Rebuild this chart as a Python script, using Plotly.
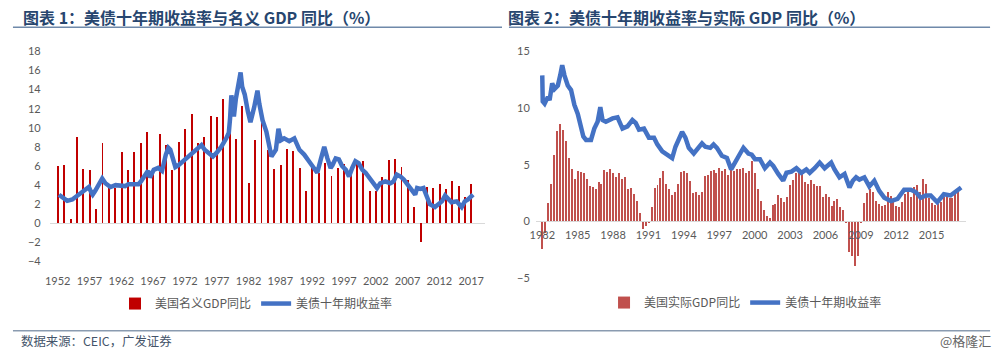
import plotly.graph_objects as go

W, H = 1000, 352


def fx(x):
    return x / W


def fy(y):
    return 1 - y / H


# ---------------- Chart 1: nominal GDP (annual) & 10Y yield ----------------
gdp_years = list(range(1952, 2018))
nominal_gdp = [
    6.0, 6.1, 0.4, 9.0, 5.6, 5.5, 1.4, 8.4, 4.0, 3.7,
    7.4, 5.5, 7.4, 8.4, 9.5, 5.7, 9.3, 8.2, 5.5, 8.5,
    9.8, 11.4, 8.4, 9.0, 11.2, 11.1, 13.0, 11.7, 8.8, 12.2,
    4.2, 8.7, 11.1, 7.6, 5.6, 6.1, 7.7, 7.5, 5.7, 3.3,
    5.9, 5.2, 6.3, 4.9, 5.7, 6.2, 5.7, 6.3, 6.5, 3.3,
    3.3, 4.8, 6.6, 6.7, 5.9, 4.5, 1.7, -2.0, 3.8, 3.7,
    4.1, 3.5, 4.4, 3.9, 2.7, 4.1,
]

left_yield_dates = [
    1952.2, 1952.7, 1953.5, 1954.3, 1955.1, 1956.1, 1956.9, 1957.3, 1957.5, 1957.9,
    1959.0, 1959.5, 1960.3, 1961.1, 1961.8, 1962.6, 1963.1, 1964.7, 1965.1, 1965.75,
    1966.2, 1966.5, 1967.1, 1967.8, 1968.4, 1969.0, 1969.4, 1969.7, 1970.2, 1970.5,
    1971.0, 1971.7, 1972.5, 1973.0, 1973.8, 1974.6, 1975.1, 1975.9, 1976.4, 1977.0,
    1977.7, 1978.5, 1978.9, 1979.1, 1979.3, 1979.5, 1979.7, 1980.0, 1980.35, 1980.75,
    1981.0, 1981.4, 1981.9, 1982.3, 1982.9, 1983.4, 1983.7, 1984.2, 1984.8, 1985.3,
    1985.6, 1986.3, 1986.7, 1987.1, 1987.6, 1988.4, 1989.2, 1990.0, 1990.75, 1991.5,
    1992.3, 1992.8, 1993.4, 1993.9, 1994.4, 1994.9, 1995.2, 1995.7, 1996.2, 1996.7,
    1997.3, 1997.8, 1998.3, 1998.8, 1999.3, 1999.9, 2000.4, 2000.9, 2001.7, 2002.2,
    2002.7, 2003.5, 2004.3, 2004.8, 2005.3, 2005.9, 2006.4, 2006.9, 2007.4, 2008.2,
    2008.5, 2009.0, 2009.5, 2010.0, 2010.5, 2011.3, 2011.85, 2012.4, 2012.9, 2013.4,
    2013.9, 2014.7, 2015.5, 2016.0, 2016.5, 2017.3,
]
left_yield = [
    3.0, 2.8, 2.35, 2.5, 2.9, 3.3, 3.8, 3.2, 3.0, 3.4,
    4.7, 4.2, 3.8, 4.0, 3.9, 3.9, 4.1, 4.1, 4.4, 5.1,
    5.5, 4.8, 5.6, 5.8, 5.5, 7.2, 7.9, 7.7, 6.3, 5.9,
    6.1, 6.5, 7.0, 7.2, 7.8, 8.2, 7.7, 7.2, 7.0, 7.4,
    8.0, 8.9, 9.5, 11.0, 13.4, 12.5, 11.2, 13.0, 14.2, 15.8,
    14.3, 13.5, 11.7, 10.6, 12.2, 13.9, 12.5, 10.8, 9.6, 7.9,
    7.0, 7.7, 9.9, 8.7, 8.9, 8.6, 8.9, 7.7, 7.2, 6.5,
    5.8, 5.3, 6.8, 8.0, 6.8, 5.8, 6.1, 6.8, 6.7, 6.0,
    5.6, 4.9, 5.8, 6.5, 6.3, 5.6, 5.3, 4.9, 4.1, 3.7,
    4.2, 4.4, 4.2, 4.4, 5.1, 4.9, 4.6, 4.2, 3.7, 3.0,
    3.7, 3.6, 3.7, 2.9, 2.0, 1.7, 2.0, 2.3, 2.9, 2.5,
    2.2, 2.3, 1.7, 2.3, 2.5, 3.0,
]
left_xticks = list(range(1952, 2018, 5))
left_yticks = list(range(-4, 19, 2))

# ---------------- Chart 2: real GDP (quarterly) & 10Y yield ----------------
real_gdp = [
    -2.5, -1.1, 1.6, 3.3, 5.8, 7.9, 8.6, 8.0, 7.1, 5.6,
    4.6, 3.7, 4.4, 4.3, 4.2, 3.7, 3.1, 3.0, 2.8, 3.4,
    3.3, 4.5, 4.3, 4.6, 4.2, 3.9, 4.2, 3.7, 3.9, 2.8,
    2.9, 2.4, 1.8, 0.7, -0.7, -0.4, -0.1, 1.2, 2.9, 3.2,
    3.8, 4.4, 3.3, 2.8, 2.3, 2.6, 3.3, 4.3, 4.4, 4.2,
    3.5, 2.5, 2.6, 2.3, 2.6, 4.0, 4.1, 4.4, 4.5, 4.2,
    4.7, 4.4, 4.6, 4.1, 4.6, 4.4, 4.6, 4.6, 4.7, 4.2,
    4.4, 5.3, 4.2, 2.8, 1.8, 1.0, 0.4, 0.3, 1.4, 1.5,
    2.3, 2.0, 1.7, 2.1, 3.2, 3.6, 4.2, 4.4, 4.2, 3.4,
    3.3, 3.6, 3.3, 3.1, 3.1, 2.1, 2.4, 2.1, 1.3, 1.8,
    1.9, 1.2, 1.0, -0.2, -2.7, -3.1, -4.0, -3.1, -0.2, 1.6,
    2.5, 2.8, 2.6, 1.8, 1.5, 1.3, 1.4, 2.6, 2.2, 1.7,
    1.3, 1.2, 1.7, 2.4, 2.7, 2.1, 3.0, 3.2, 2.6, 3.7,
    3.3, 2.0, 1.6, 1.4, 1.5, 1.7, 2.1, 2.2, 2.0, 2.0,
    2.5, 2.8,
]
real_gdp_quarters = [1982 + i / 4 for i in range(len(real_gdp))]

right_yield_dates = [
    1982.0, 1982.04, 1982.2, 1982.48, 1982.62, 1982.84, 1983.04, 1983.32, 1983.52, 1983.69,
    1983.88, 1984.16, 1984.44, 1984.72, 1985.01, 1985.29, 1985.48, 1985.71, 1986.13, 1986.41,
    1986.69, 1986.92, 1987.11, 1987.39, 1987.67, 1987.96, 1988.38, 1988.80, 1989.22, 1989.64,
    1989.92, 1990.20, 1990.62, 1991.04, 1991.47, 1991.75, 1992.17, 1992.73, 1993.01, 1993.29,
    1993.85, 1994.13, 1994.42, 1994.84, 1995.26, 1995.54, 1995.82, 1996.24, 1996.52, 1996.80,
    1997.22, 1997.65, 1998.01, 1998.35, 1998.77, 1999.05, 1999.47, 1999.75, 2000.03, 2000.45,
    2000.87, 2001.30, 2001.58, 2002.0, 2002.42, 2002.70, 2003.12, 2003.54, 2003.96, 2004.38,
    2004.67, 2005.09, 2005.51, 2005.93, 2006.21, 2006.49, 2006.77, 2007.19, 2007.62, 2008.04,
    2008.32, 2008.60, 2008.88, 2009.30, 2009.72, 2010.14, 2010.56, 2010.99, 2011.55, 2012.11,
    2012.67, 2013.23, 2013.65, 2014.08, 2014.50, 2014.92, 2015.48, 2016.04, 2016.60, 2017.16,
    2017.50,
]
right_yield = [
    12.9, 10.6, 10.4, 11.0, 10.7, 12.2, 11.7, 12.0, 12.9, 13.8,
    12.9, 12.0, 11.6, 10.3, 9.5, 8.5, 7.5, 7.2, 7.2, 8.2,
    8.8, 10.1, 8.95, 8.8, 8.95, 9.1, 9.2, 8.2, 8.4, 8.95,
    8.7, 8.1, 8.2, 7.4, 7.4, 6.8, 6.2, 5.8, 5.6, 6.6,
    7.9, 7.4, 6.5, 6.0, 6.6, 6.9, 6.6, 6.5, 6.8, 6.5,
    5.8, 5.6, 4.6, 5.3, 6.0, 6.5, 6.0, 5.9, 5.5, 5.5,
    4.7, 5.2, 4.9, 4.2, 3.6, 4.3, 4.4, 4.7, 4.3, 4.6,
    4.3, 4.7, 5.2, 4.7, 4.9, 5.2, 4.6, 3.9, 4.2, 3.0,
    3.6, 3.9, 3.7, 3.9, 3.1, 3.6, 2.7, 2.1, 1.8, 2.0,
    2.8, 2.8, 2.6, 2.1, 2.3, 2.3, 1.7, 2.4, 2.3, 2.7,
    3.0,
]
right_xticks = list(range(1982, 2016, 3))
right_yticks = [-5, 0, 5, 10, 15]

BLUE = "#4472C4"
TICK = dict(size=11, color="#595959", family="Lato, 'Noto Sans CJK SC', sans-serif")
CJK = "'Noto Sans CJK SC', sans-serif"

fig = go.Figure()

fig.add_trace(go.Bar(
    x=gdp_years, y=nominal_gdp, width=0.15, name="美国名义GDP同比",
    marker=dict(color="#C00000", line=dict(width=0)),
    xaxis="x", yaxis="y", legend="legend",
))
fig.add_trace(go.Scatter(
    x=left_yield_dates, y=left_yield, mode="lines", name="美债十年期收益率",
    line=dict(color=BLUE, width=4.5), xaxis="x", yaxis="y", legend="legend",
))
fig.add_trace(go.Bar(
    x=real_gdp_quarters, y=real_gdp, width=0.085, name="美国实际GDP同比",
    marker=dict(color="#C0504D", line=dict(width=0)),
    xaxis="x2", yaxis="y2", legend="legend2",
))
fig.add_trace(go.Scatter(
    x=right_yield_dates, y=right_yield, mode="lines", name="美债十年期收益率",
    line=dict(color=BLUE, width=4.5), xaxis="x2", yaxis="y2", legend="legend2",
))

# left axes: 1952 -> px 52, 2017 -> px 468 ; 18 -> py 49, -4 -> py 261.5
lx0, lx1 = 44, 482
l_ppy = (468 - 52) / 65.0
ly0, ly1 = 45, 266
l_ppu = (261.5 - 49) / 22.0
# right axes: 1982 -> px 539.5, 11.87 px/yr ; 0 -> py 221, 11.46 px/unit
rx0, rx1 = 533, 966
r_ppy = 11.87
ry0, ry1 = 45, 283
r_ppu = 11.46

fig.update_layout(
    width=W, height=H, margin=dict(l=0, r=0, t=0, b=0),
    paper_bgcolor="white", plot_bgcolor="white",
    font=dict(family=CJK, color="#595959"),
    bargap=0,
    xaxis=dict(
        domain=[fx(lx0), fx(lx1)],
        range=[1952 - (52 - lx0) / l_ppy, 2017 + (lx1 - 468) / l_ppy],
        tickvals=left_xticks, ticktext=[str(v) for v in left_xticks],
        showgrid=False, zeroline=False, showline=False, ticks="",
        tickfont=TICK, anchor="y", ticklabelstandoff=7,
    ),
    yaxis=dict(
        domain=[fy(ly1), fy(ly0)],
        range=[-4 - (ly1 - 261.5) / l_ppu, 18 + (49 - ly0) / l_ppu],
        tickvals=left_yticks, showgrid=False, zeroline=True,
        zerolinecolor="#D9D9D9", zerolinewidth=1, showline=False, ticks="",
        tickfont=TICK, anchor="x", ticklabelstandoff=8,
    ),
    xaxis2=dict(
        domain=[fx(rx0), fx(rx1)],
        range=[1982 - (539.5 - rx0) / r_ppy, 1982 + (rx1 - 539.5) / r_ppy],
        tickvals=right_xticks, ticktext=[str(v) for v in right_xticks],
        showgrid=False, zeroline=False, showline=True, linecolor="#D9D9D9",
        linewidth=1, ticks="", tickfont=TICK,
        anchor="free", position=fy(221), ticklabelstandoff=3,
    ),
    yaxis2=dict(
        domain=[fy(ry1), fy(ry0)],
        range=[-(ry1 - 221) / r_ppu, (221 - ry0) / r_ppu],
        tickvals=right_yticks, showgrid=False, zeroline=False, showline=False,
        ticks="", tickfont=TICK, anchor="x2", ticklabelstandoff=5,
    ),
    legend=dict(
        orientation="h", x=fx(252), xanchor="center", y=fy(304), yanchor="middle",
        font=dict(size=12, color="#595959", family=CJK), bgcolor="rgba(0,0,0,0)",
        itemwidth=30, tracegroupgap=0,
    ),
    legend2=dict(
        orientation="h", x=fx(744), xanchor="center", y=fy(303), yanchor="middle",
        font=dict(size=12, color="#595959", family=CJK), bgcolor="rgba(0,0,0,0)",
        itemwidth=30, tracegroupgap=0,
    ),
)

TITLE_COLOR = "#27466F"
fig.add_annotation(
    text="<b>图表 1：美债十年期收益率与名义 GDP 同比（%）</b>",
    x=fx(15), y=fy(14), xref="paper", yref="paper", xanchor="left", yanchor="middle",
    showarrow=False, font=dict(size=16, color=TITLE_COLOR, family=CJK),
)
fig.add_annotation(
    text="<b>图表 2：美债十年期收益率与实际 GDP 同比（%）</b>",
    x=fx(503), y=fy(14), xref="paper", yref="paper", xanchor="left", yanchor="middle",
    showarrow=False, font=dict(size=16, color=TITLE_COLOR, family=CJK),
)
fig.add_annotation(
    text="数据来源：CEIC，广发证券",
    x=fx(13), y=fy(342), xref="paper", yref="paper", xanchor="left", yanchor="middle",
    showarrow=False, font=dict(size=12.4, color="#44546A", family=CJK),
)
fig.add_annotation(
    text="@格隆汇",
    x=fx(993), y=fy(341), xref="paper", yref="paper", xanchor="right", yanchor="middle",
    showarrow=False, font=dict(size=13, color="#666666", family=CJK),
)

LINE_COLOR = "#6F89AA"
fig.add_shape(type="line", xref="paper", yref="paper", x0=fx(7), x1=fx(499),
              y0=fy(24.5), y1=fy(24.5), line=dict(color=LINE_COLOR, width=1.5))
fig.add_shape(type="line", xref="paper", yref="paper", x0=fx(506), x1=fx(990),
              y0=fy(24.5), y1=fy(24.5), line=dict(color=LINE_COLOR, width=1.5))
fig.add_shape(type="line", xref="paper", yref="paper", x0=fx(7), x1=fx(990),
              y0=fy(331.5), y1=fy(331.5), line=dict(color="#8A9BB0", width=1.5))

fig.write_html("out.html")
